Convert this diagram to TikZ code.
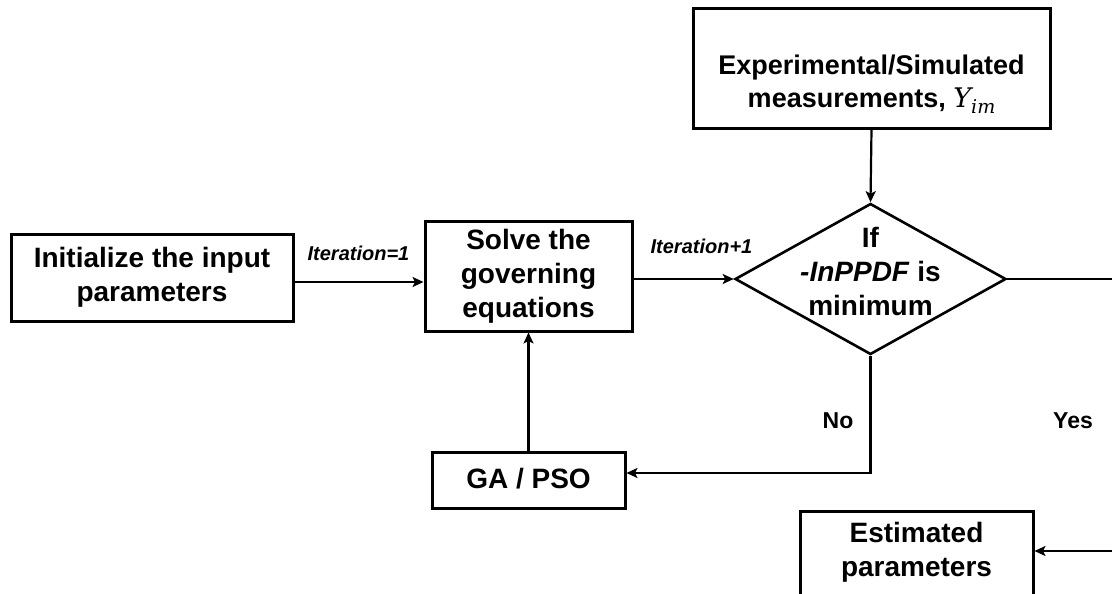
\documentclass[tikz,border=0pt]{standalone}
\usepackage{fontspec}
\setmainfont{Liberation Sans}
\newfontfamily\varfont{DejaVu Serif}
\usetikzlibrary{shapes.geometric,arrows.meta}

% italic serif variable with subscript, as set in the measurement box
\newcommand{\measvar}[2]{{\varfont\mdseries\itshape #1\raisebox{-0.22em}{\fontsize{19}{19}\selectfont #2}}}

\tikzset{
  boxfont/.style={font=\fontsize{28}{34}\selectfont\bfseries},
  stepbox/.style={draw, line width=3pt, boxfont, align=center, inner sep=0pt},
  boxtext/.style={boxfont, align=center, inner sep=0pt},
  decision/.style={draw, diamond, line width=2.6pt, inner sep=0pt,
    minimum width=271pt, minimum height=151pt},
  iterlabel/.style={font=\fontsize{20}{24}\selectfont\bfseries\itshape, inner sep=0pt},
  branchlabel/.style={font=\fontsize{23}{28}\selectfont\bfseries, inner sep=0pt},
  arr/.style={line width=2.2pt, -{Stealth[length=11pt,width=10pt,inset=2.5pt]}}
}

\begin{document}
\begin{tikzpicture}[x=1pt,y=-1pt]
\useasboundingbox (0,0) rectangle (1112,594);
\clip (0,0) rectangle (1112,594);

% process boxes
\node[stepbox, minimum width=282pt, minimum height=87pt] (init) at (152,277.5)
  {Initialize the input\\parameters};
\node[stepbox, minimum width=207pt, minimum height=110pt] (solve) at (528.5,276)
  {Solve the\\governing\\equations};
\node[stepbox, minimum width=193pt, minimum height=56pt] (ga) at (528.5,480)
  {\raisebox{4pt}{GA / PSO}};

% measurement box, text sits in its lower part
\node[stepbox, minimum width=357pt, minimum height=119pt] (exp) at (871.5,68.5) {};
\node[boxtext, font=\fontsize{27}{33}\selectfont\bfseries] (exptxt) at (871.5,84)
  {Experimental/Simulated\\measurements, \measvar{Y}{im}};

% decision
\node[decision] (dec) at (870.5,279) {};
\node[boxtext] (dectxt) at (870.5,271)
  {If\\\textit{-InPPDF} is\\minimum};

% result box, running past the lower edge
\node[stepbox, minimum width=233pt, minimum height=109pt] (est) at (916.5,565.5) {};
\node[boxtext] (esttxt) at (916.5,552) {Estimated\\parameters};

% connectors
\draw[arr] ([yshift=-4.5pt]init.east) -- ([yshift=-4.5pt]init.east -| solve.west);
\draw[arr] (solve.east |- dec.west) -- (dec.west);
\draw[arr] (exp.south) -- (dec.north);
\coordinate (noturn) at (dec.south |- 0,473);
\draw[arr] (dec.south) -- (noturn) -- (noturn -| ga.east);
\draw[arr] (ga.north) -- (solve.south);
\coordinate (yesturn) at (1125,551);
\draw[arr] (dec.east) -| (yesturn) -- (yesturn -| est.east);

% labels
\node[iterlabel] (it1) at (358.5,253) {Iteration=1};
\node[iterlabel] (itn) at (701.5,246) {Iteration+1};
\node[branchlabel] (no) at (838,421) {No};
\node[branchlabel] (yes) at (1073,421) {Yes};
\end{tikzpicture}
\end{document}
